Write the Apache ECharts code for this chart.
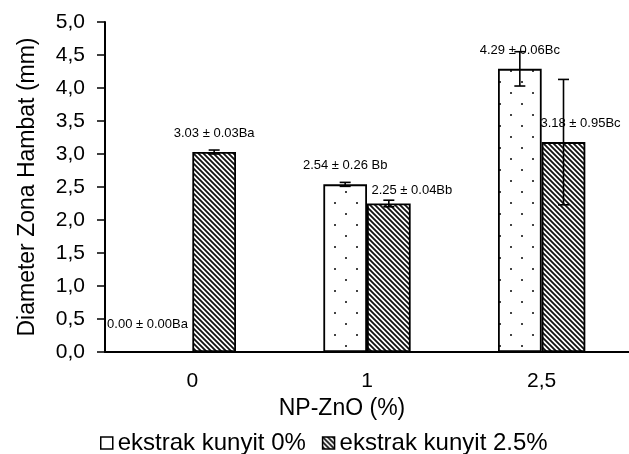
<!DOCTYPE html>
<html>
<head>
<meta charset="utf-8">
<script src="https://cdn.jsdelivr.net/npm/echarts@6/dist/echarts.min.js"></script>
<style>
  html, body { margin: 0; padding: 0; background: #fff; }
  #chart { width: 629px; height: 454px; }
</style>
</head>
<body>
<div id="chart"></div>
<script>
// data
const categories = ['0', '1', '2,5'];
const seriesNames = ['ekstrak kunyit 0%', 'ekstrak kunyit 2.5%'];
const kunyit0 = [0.00, 2.54, 4.29];
const kunyit25 = [3.03, 2.25, 3.18];
// error bars as drawn (not always the same as the text)
const err0 = [0.00, 0.03, 0.26];
const err25 = [0.03, 0.05, 0.95];
const labels0 = ['0.00 ± 0.00Ba', '2.54 ± 0.26 Bb', '4.29 ± 0.06Bc'];
const labels25 = ['3.03 ± 0.03Ba', '2.25 ± 0.04Bb', '3.18 ± 0.95Bc'];
// label nudges [dx, dy]
const offsets0 = [[-23, -20], [0, -12], [0, -12]];
const offsets25 = [[0, -12], [23, -7], [17, -12]];

const FONT = 'Liberation Sans, Arial, sans-serif';

// dotted fill, staggered rows
function dotPattern() {
  const c = document.createElement('canvas');
  c.width = 22; c.height = 22;
  const g = c.getContext('2d');
  g.fillStyle = '#fff';
  g.fillRect(0, 0, 22, 22);
  g.fillStyle = '#444';
  g.fillRect(4, 4, 2, 2);
  g.fillRect(15, 15, 2, 2);
  return c;
}
// "\\\" hatch
function hatchPattern() {
  const n = 5;
  const c = document.createElement('canvas');
  c.width = n; c.height = n;
  const g = c.getContext('2d');
  g.fillStyle = '#fff';
  g.fillRect(0, 0, n, n);
  g.strokeStyle = '#111';
  g.lineWidth = 1.8;
  g.beginPath();
  g.moveTo(-1, -1); g.lineTo(n + 1, n + 1);
  g.moveTo(n - 1, -1); g.lineTo(n + 1, 1);
  g.moveTo(-1, n - 1); g.lineTo(1, n + 1);
  g.stroke();
  return c;
}

const dots = { image: dotPattern(), repeat: 'repeat' };
const hatch = { image: hatchPattern(), repeat: 'repeat' };

function barData(vals, labs, offs) {
  return vals.map((v, i) => ({
    value: v,
    label: { formatter: labs[i], offset: offs[i] }
  }));
}

function errData(vals, errs) {
  return vals.map((v, i) => [i, v, errs[i]]);
}

// side: -1 left bar, +1 right bar
function errRender(side) {
  return function (params, api) {
    const i = api.value(0), v = api.value(1), e = api.value(2);
    if (!e) return null;
    const bw = api.size([1, 0])[0] * 0.25;
    const c = api.coord([i, v]);
    const x = c[0] + side * bw / 2;
    const top = api.coord([i, v + e])[1];
    const bot = api.coord([i, v - e])[1];
    const cap = 5.5;
    const st = { stroke: '#000', lineWidth: 1.6 };
    return {
      type: 'group',
      children: [
        { type: 'line', shape: { x1: x, y1: top, x2: x, y2: bot }, style: st },
        { type: 'line', shape: { x1: x - cap, y1: top, x2: x + cap, y2: top }, style: st },
        { type: 'line', shape: { x1: x - cap, y1: bot, x2: x + cap, y2: bot }, style: st }
      ]
    };
  };
}

const chart = echarts.init(document.getElementById('chart'));
chart.setOption({
  animation: false,
  grid: { left: 105, right: 0, top: 22, bottom: 102 },
  legend: {
    left: 100, top: 431, padding: 0,
    itemWidth: 12, itemHeight: 12, itemGap: 16,
    icon: 'rect',
    textStyle: { fontFamily: FONT, fontSize: 24, color: '#000' },
    data: [
      { name: seriesNames[0], itemStyle: { color: '#fff', borderColor: '#000', borderWidth: 1.5 } },
      { name: seriesNames[1], itemStyle: { color: hatch, borderColor: '#000', borderWidth: 1.5 } }
    ]
  },
  xAxis: {
    type: 'category',
    data: categories,
    name: 'NP-ZnO (%)',
    nameLocation: 'middle',
    nameGap: 32,
    nameTextStyle: { fontFamily: FONT, fontSize: 23, color: '#000', padding: [0, 50, 0, 0] },
    axisLine: { lineStyle: { color: '#000', width: 2 } },
    axisTick: { length: 6, lineStyle: { color: '#000', width: 1.5 } },
    axisLabel: { fontFamily: FONT, fontSize: 21, color: '#000', margin: 19 }
  },
  yAxis: {
    type: 'value',
    min: 0, max: 5, interval: 0.5,
    name: 'Diameter Zona Hambat (mm)',
    nameLocation: 'middle',
    nameGap: 66,
    nameTextStyle: { fontFamily: FONT, fontSize: 23, color: '#000' },
    axisLine: { show: true, lineStyle: { color: '#000', width: 2 } },
    axisTick: { show: true, length: 8, lineStyle: { color: '#000', width: 1.5 } },
    axisLabel: {
      fontFamily: FONT, fontSize: 21, color: '#000', margin: 20,
      formatter: v => v.toFixed(1).replace('.', ',')
    },
    splitLine: { show: false }
  },
  series: [
    {
      name: seriesNames[0], type: 'bar',
      barWidth: '25%', barGap: '0%',
      data: barData(kunyit0, labels0, offsets0),
      itemStyle: { color: dots, borderColor: '#000', borderWidth: 1.8 },
      label: { show: true, position: 'top', distance: 0, fontFamily: FONT, fontSize: 13, color: '#000' }
    },
    {
      name: seriesNames[1], type: 'bar',
      barWidth: '25%', barGap: '0%',
      data: barData(kunyit25, labels25, offsets25),
      itemStyle: { color: hatch, borderColor: '#000', borderWidth: 1.8 },
      label: { show: true, position: 'top', distance: 0, fontFamily: FONT, fontSize: 13, color: '#000' }
    },
    {
      type: 'custom', renderItem: errRender(-1), data: errData(kunyit0, err0),
      z: 10, silent: true
    },
    {
      type: 'custom', renderItem: errRender(1), data: errData(kunyit25, err25),
      z: 10, silent: true
    }
  ]
});
</script>
</body>
</html>
